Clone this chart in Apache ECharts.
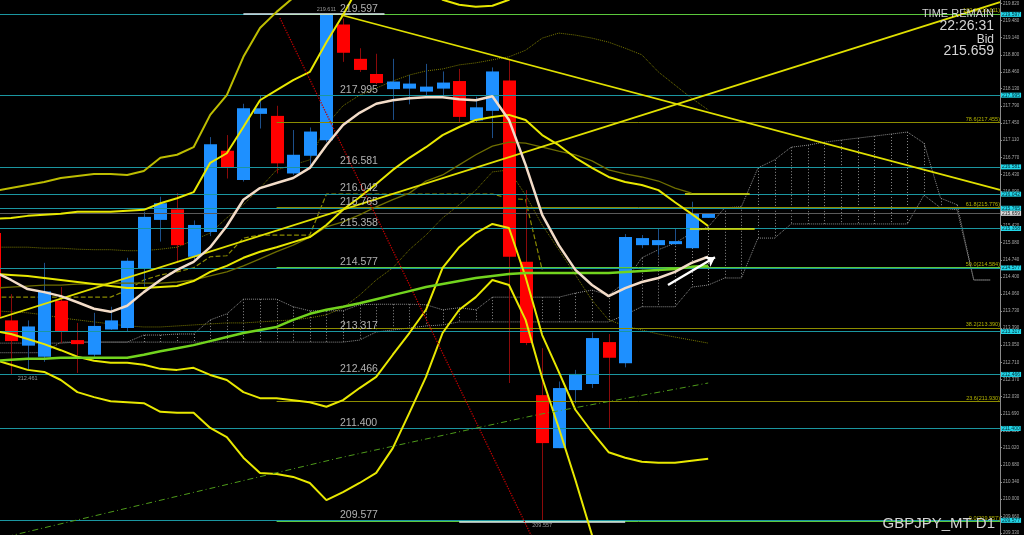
<!DOCTYPE html>
<html><head><meta charset="utf-8">
<script src="https://cdn.jsdelivr.net/npm/echarts@6/dist/echarts.min.js"></script>
<style>html,body{margin:0;padding:0;background:#000;}#c{width:1024px;height:535px;}</style>
</head><body><div id="c"></div>
<script>
// ---------- data (bar index starts at -1) ----------
const START = -1;
// [open, high, low, close]
const ohlc = [
 [215.27,215.43,213.45,213.61],[213.54,214.06,212.461,213.13],[213.04,213.54,212.56,213.42],[212.82,214.68,212.72,214.11],
 [213.93,214.20,213.09,213.32],[213.15,213.49,212.50,213.07],[212.86,213.69,212.82,213.43],[213.36,213.81,213.35,213.54],
 [213.39,214.78,213.32,214.72],[214.56,215.69,214.21,215.59],[215.53,215.99,215.10,215.86],[215.74,216.06,214.68,215.03],
 [214.80,215.52,214.74,215.43],[215.29,217.17,215.21,217.03],[216.90,217.21,216.35,216.57],[216.32,217.83,216.29,217.74],
 [217.63,218.00,217.34,217.74],[217.59,217.79,216.45,216.65],[216.45,217.31,216.42,216.82],[216.80,217.36,216.62,217.28],
 [217.11,219.611,217.07,219.60],[219.40,219.52,218.66,218.84],[218.72,218.93,218.46,218.50],[218.42,218.82,218.22,218.24],
 [218.12,218.72,217.51,218.27],[218.13,218.40,217.82,218.23],[218.07,218.62,217.94,218.17],[218.13,218.47,217.98,218.25],
 [218.28,218.52,217.46,217.57],[217.50,217.97,217.46,217.76],[217.69,218.55,217.15,218.47],[218.29,218.70,212.30,214.80],
 [214.70,216.12,213.05,213.09],[212.06,212.99,209.557,211.11],[211.01,212.33,211.01,212.20],[212.16,212.56,211.90,212.48],
 [212.28,213.30,212.20,213.19],[213.11,213.27,211.40,212.80],[212.69,215.25,212.61,215.19],[215.03,215.23,214.97,215.17],
 [215.03,215.37,214.84,215.13],[215.05,215.37,215.03,215.11],[214.97,215.89,214.97,215.65],[215.57,215.659,215.57,215.659]
];
const maFast = [214.50,214.34,214.16,214.10,214.02,213.90,213.77,213.71,213.83,214.10,214.34,214.54,214.70,214.99,215.41,215.93,216.16,216.26,216.36,216.56,217.01,217.41,217.65,217.83,217.90,217.94,217.96,217.96,217.92,217.90,217.98,217.51,216.62,215.63,215.03,214.54,214.24,214.02,214.18,214.30,214.38,214.50,214.68,214.80];
const maSlow = [212.74,212.76,212.78,212.78,212.80,212.80,212.80,212.80,212.80,212.86,212.93,212.99,213.05,213.13,213.21,213.29,213.35,213.41,213.55,213.67,213.75,213.81,213.88,213.96,214.04,214.12,214.20,214.26,214.32,214.38,214.42,214.46,214.48,214.48,214.48,214.48,214.48,214.48,214.50,214.52,214.54,214.56,214.60,214.62];
const bandOuterUp = [216.10,216.16,216.22,216.28,216.36,216.40,216.44,216.44,216.42,216.50,216.76,216.82,216.97,217.61,218.00,218.76,219.33,219.65,219.93,220.28,220.90,221.40,221.70,221.90,222.00];
const bandUp1 = [215.55,215.57,215.61,215.63,215.65,215.69,215.69,215.69,215.71,215.73,215.86,215.96,216.08,216.66,216.85,217.37,217.90,218.10,218.30,218.46,219.05,219.59,220.18,220.48,220.58,220.48,220.18,219.89,219.79,219.75,219.77,219.89,220.48,221.47,222.26];
const bandUp2 = [214.46,214.44,214.42,214.38,214.34,214.30,214.26,214.22,214.18,214.18,214.20,214.22,214.32,214.50,214.62,214.78,214.90,214.99,215.09,215.19,215.43,215.73,215.98,216.24,216.52,216.76,216.97,217.21,217.37,217.51,217.57,217.61,217.51,217.21,217.01,216.76,216.56,216.38,216.28,216.22,216.12,215.88,215.65,215.41];
const bandMid = [214.18,214.20,214.22,214.24,214.24,214.26,214.26,214.28,214.28,214.28,214.28,214.30,214.34,214.42,214.50,214.62,214.76,214.90,215.03,215.19,215.39,215.49,215.63,215.79,215.93,216.06,216.30,216.42,216.62,216.82,216.99,217.07,217.05,216.97,216.89,216.82,216.70,216.52,216.44,216.38,216.30,216.16,216.06];
const bandLow1 = [213.33,213.27,213.17,213.07,212.95,212.82,212.74,212.70,212.70,212.66,212.58,212.56,212.60,212.46,212.36,212.12,212.00,212.00,211.96,211.92,211.83,211.96,212.20,212.42,212.86,213.29,213.75,214.58,214.99,215.27,215.45,215.37,214.40,213.25,212.52,211.77,211.33,210.93,210.82,210.74,210.72,210.72,210.76,210.80];
const bandLow2 = [212.76,212.66,212.56,212.52,212.36,212.12,212.02,211.94,211.92,211.90,211.73,211.71,211.71,211.41,211.23,210.82,210.52,210.50,210.44,210.32,209.98,210.14,210.32,210.52,211.01,211.71,212.42,213.29,213.75,214.00,214.34,214.24,213.55,212.40,211.41,210.38,209.29,208.20,207.21,206.42,206.02];
const envUp = [214.99,214.99,214.99,214.97,214.97,214.95,214.94,214.94,214.92,214.92,214.95,214.99,215.13,215.27,215.57,215.83,216.16,216.52,216.62,216.72,217.41,217.79,218.00,218.14,218.28,218.40,218.48,218.52,218.60,218.64,218.70,218.76,218.89,219.13,219.23,219.19,219.13,219.05,218.93,218.80,218.46,218.20,217.94,217.71];
const envLow = [213.73,213.71,213.69,213.65,213.59,213.55,213.51,213.47,213.43,213.41,213.41,213.43,213.45,213.47,213.49,213.49,213.51,213.53,213.55,213.59,213.65,213.79,214.04,214.34,214.58,214.94,215.23,215.57,215.83,216.12,216.48,216.52,216.02,215.43,214.94,214.44,213.94,213.55,213.43,213.35,213.27,213.21,213.15,213.09];
const kijun = [214.00,214.00,214.00,214.00,214.00,214.00,214.00,214.00,214.14,214.34,214.44,214.50,214.58,214.80,214.82,215.17,215.23,215.23,215.23,215.23,216.04,216.04,216.04,216.04,216.04,216.04,216.04,216.04,216.04,216.04,216.04,215.96,215.93,214.54];
const spanA = [213.09,213.09,213.09,213.09,213.09,213.11,213.11,213.11,213.11,213.25,213.25,213.27,213.27,213.55,213.67,213.96,213.96,213.96,213.81,213.73,213.73,213.73,213.85,213.86,213.86,213.86,213.85,213.75,213.79,213.75,214.00,214.00,214.00,214.00,214.00,214.08,214.14,214.04,214.30,214.78,214.94,215.07,215.27,215.39,215.77,215.79,216.56,216.72,216.97,217.01,217.07,217.11,217.15,217.19,217.23,217.27,217.05,215.96,215.83,214.34,214.34];
const spanB = [212.90,212.90,212.90,212.90,213.11,213.11,213.11,213.11,213.11,213.11,213.11,213.11,213.11,213.11,213.11,213.11,213.11,213.11,213.11,213.11,213.11,213.11,213.15,213.31,213.35,213.39,213.43,213.45,213.51,213.51,213.51,213.51,213.51,213.51,213.51,213.51,213.51,213.51,213.65,213.81,213.81,213.81,214.20,214.24,214.38,214.38,215.17,215.17,215.45,215.45,215.45,215.45,215.45,215.45,215.45,215.45,216.02,215.77,215.73,214.34,214.34];
const trendUp = [[-0.663,213.588],[59.58,219.845]];
const trendDown = [[19.9,219.588],[59.58,216.123]];
const redDiagonal = [[16.2,219.529],[31.47,209.19]];
const greenDashDot = [[-1,209.2],[19.82,210.82],[31.69,211.67],[42.0,212.30]];
const arrowFrom = [39.58,214.24], arrowTo = [42.41,214.79];
const projPrice = [216.04,215.35], projFrom = [40.6,40.9], projTo = [44.5,44.8];
const levels = [219.597,217.995,216.581,216.042,215.765,215.358,214.577,213.317,212.466,211.400,209.577];
const fibLevels = [219.611,217.455,215.776,214.584,213.390,211.930,209.557];
const fibNames = ['100.0','78.6','61.8','50.0','38.2','23.6','0.0'];
const fibStart = 16;
const bidPrice = 215.659;
const markerPrice = [219.611,212.461,209.557], markerFrom = [14,-0.7,27], markerTo = [22.5,4.0,37], markerLabelAt = [19,1,32];
const axisTicks = [219.82,219.48,219.14,218.80,218.46,218.13,217.79,217.45,217.11,216.77,216.43,216.09,215.75,215.42,215.08,214.74,214.40,214.06,213.73,213.39,213.05,212.71,212.37,212.03,211.69,211.35,211.02,210.68,210.34,210.00,209.66,209.33];

// ---------- layout / style ----------
const X_MIN = -0.663, X_MAX = 59.58, Y_MIN = 209.29, Y_MAX = 219.885;
const LABEL_AT = 19.82;
const CYAN = '#1b96a0', UP = '#1e90ff', DN = '#ff0000', WICK_UP = '#1d4f8a', WICK_DN = '#8b0a0a';
const FIB_GREEN = new Set(['100.0','50.0','0.0']);
const FONT = '"Liberation Sans", Arial, sans-serif';
const seq = (arr, s) => arr.map((v, k) => [s + k, v]);
function line(data, color, width, type, z, extra) {
  return Object.assign({ type: 'line', data, symbol: 'none', silent: true, animation: false, z: z || 3,
    lineStyle: { color, width, type: type || 'solid' } }, extra || {});
}

const chart = echarts.init(document.getElementById('c'), null, { renderer: 'canvas' });

const hatchData = spanA.map((a, k) => [START + k, a, spanB[k]]);
const candleData = ohlc.map((d, k) => [START + k, d[0], d[1], d[2], d[3]]);

const levelMarks = levels.map(v => ({ yAxis: v, lineStyle: { color: CYAN, width: 1, type: 'solid' },
  label: { show: true, position: 'end', distance: 1, formatter: v.toFixed(3), fontSize: 5, fontFamily: FONT,
    color: '#002a33', backgroundColor: '#22d6e8', padding: [0, 1, 0, 1] } }));
levelMarks.push({ yAxis: bidPrice, lineStyle: { color: '#5a5a5a', width: 1, type: 'solid' },
  label: { show: true, position: 'end', distance: 1, formatter: bidPrice.toFixed(3), fontSize: 5, fontFamily: FONT,
    color: '#222', backgroundColor: '#d8d8d8', padding: [0, 1, 0, 1] } });
const fibMarks = fibLevels.map((v, k) => {
  const col = FIB_GREEN.has(fibNames[k]) ? '#5cc83c' : '#8c8c00';
  const lab = { show: true, position: 'insideEndTop', distance: 0, formatter: fibNames[k] + '(' + v.toFixed(3) + ')',
    fontSize: 5.5, fontFamily: FONT, color: '#b4b400' };
  return [{ coord: [fibStart, v], lineStyle: { color: col, width: 1, type: 'solid' }, label: lab },
          { coord: [X_MAX, v], lineStyle: { color: col, width: 1, type: 'solid' }, label: lab }];
});
const markerMarks = markerPrice.map((v, k) => [
  { coord: [markerFrom[k], v], lineStyle: { color: k === 1 ? '#9a9a9a' : '#dde8f0', width: 1.5, type: 'solid' }, label: { show: false } },
  { coord: [markerTo[k], v], lineStyle: { color: k === 1 ? '#9a9a9a' : '#dde8f0', width: 1.5, type: 'solid' }, label: { show: false } }]);
const projMarks = projPrice.map((v, k) => [
  { coord: [projFrom[k], v], lineStyle: { color: '#e8e800', width: 1.5, type: 'solid' }, label: { show: false } },
  { coord: [projTo[k], v], lineStyle: { color: '#e8e800', width: 1.5, type: 'solid' }, label: { show: false } }]);

const series = [
  // ichimoku cloud
  line(seq(spanA, START), '#8c8c8c', 1, 'dotted', 1),
  line(seq(spanB, START), '#8c8c8c', 1, 'dotted', 1),
  { type: 'custom', data: hatchData, z: 1, silent: true, animation: false, clip: true,
    encode: { x: 0, y: [1, 2] },
    renderItem: (p, api) => {
      const a = api.coord([api.value(0), api.value(1)]), b = api.coord([api.value(0), api.value(2)]);
      const x = Math.round(a[0]) + 0.5;
      return { type: 'line', shape: { x1: x, y1: a[1], x2: x, y2: b[1] }, style: { stroke: '#8c8c8c', lineWidth: 1, lineDash: [1, 2] } };
    } },
  line(seq(envUp, START), '#7a7a00', 1, 'dotted', 2),
  line(seq(envLow, START), '#7a7a00', 1, 'dotted', 2),
  line(seq(kijun, START), '#8a8a00', 1.2, 'dashed', 2),
  // candles
  { type: 'custom', data: candleData, z: 3, silent: true, animation: false, clip: true,
    encode: { x: 0, y: [1, 2, 3, 4] },
    renderItem: (p, api) => {
      const i = api.value(0), o = api.value(1), h = api.value(2), l = api.value(3), c = api.value(4);
      const pO = api.coord([i, o]), pH = api.coord([i, h]), pL = api.coord([i, l]), pC = api.coord([i, c]);
      const bull = c >= o, x = Math.round(pO[0]);
      const top = Math.min(pO[1], pC[1]), bot = Math.max(pO[1], pC[1]);
      return { type: 'group', children: [
        { type: 'line', shape: { x1: x + 0.5, y1: pH[1], x2: x + 0.5, y2: pL[1] }, style: { stroke: bull ? WICK_UP : WICK_DN, lineWidth: 1 } },
        { type: 'rect', shape: { x: x - 6, y: top, width: 13, height: Math.max(1.5, bot - top) }, style: { fill: bull ? UP : DN } } ] };
    } },
  // horizontal levels
  line([[X_MIN, Y_MIN]], 'rgba(0,0,0,0)', 0, 'solid', 5, { markLine: { silent: true, symbol: 'none', animation: false,
    data: levelMarks.concat(fibMarks, markerMarks, projMarks) } }),
  // bands and MAs
  line(seq(bandMid, START), '#6e6e00', 1.3, 'solid', 6),
  line(seq(bandOuterUp, START), '#bdbd00', 2, 'solid', 6),
  line(seq(bandUp1, START), '#e8e800', 2, 'solid', 6),
  line(seq(bandUp2, START), '#e8e800', 2, 'solid', 6),
  line(seq(bandLow1, START), '#e8e800', 2, 'solid', 6),
  line(seq(bandLow2, START), '#e8e800', 2, 'solid', 6),
  line(trendUp, '#e0e000', 1.8, 'solid', 6),
  line(trendDown, '#e0e000', 1.8, 'solid', 6),
  line(redDiagonal, '#c00000', 1.3, 'dotted', 6),
  line(greenDashDot, '#4e9a1a', 1, [6, 3, 1, 3], 6),
  line(seq(maSlow, START), '#72d41e', 2.5, 'solid', 7),
  line(seq(maFast, START), '#f3dcc8', 2.5, 'solid', 7),
  { type: 'lines', coordinateSystem: 'cartesian2d', z: 8, silent: true, animation: false,
    symbol: ['none', 'arrow'], symbolSize: 9,
    lineStyle: { color: '#ffffff', width: 2.5, opacity: 1 },
    data: [{ coords: [arrowFrom, arrowTo] }] },
  // level labels on chart
  { type: 'scatter', z: 9, silent: true, animation: false, symbolSize: 0, itemStyle: { color: 'transparent' },
    data: levels.map(v => [LABEL_AT, v]),
    label: { show: true, position: 'top', align: 'left', distance: 0, fontSize: 10.5, fontFamily: FONT, color: '#dcdcdc',
      formatter: p => p.value[1].toFixed(3) } },
  { type: 'scatter', z: 9, silent: true, animation: false, symbolSize: 0, itemStyle: { color: 'transparent' },
    data: markerPrice.map((v, k) => ({ value: [markerLabelAt[k], v], label: { position: k === 0 ? 'top' : 'bottom' } })),
    label: { show: true, distance: 1, fontSize: 5.5, fontFamily: FONT, color: '#bdbdbd',
      formatter: p => p.value[1].toFixed(3) } }
];

chart.setOption({
  backgroundColor: '#000',
  animation: false,
  grid: { left: 0, right: 24, top: 0, bottom: 0, containLabel: false, outerBoundsMode: 'none' },
  xAxis: { type: 'value', min: X_MIN, max: X_MAX, show: false },
  yAxis: { type: 'value', position: 'right', min: Y_MIN, max: Y_MAX, scale: true,
    axisLine: { show: true, onZero: false, lineStyle: { color: '#8a8a8a', width: 1 } },
    axisTick: { show: true, length: 2, customValues: axisTicks, lineStyle: { color: '#8a8a8a' } },
    axisLabel: { show: true, customValues: axisTicks, margin: 3, fontSize: 4.5, fontFamily: FONT, color: '#a8a8a8',
      formatter: v => v.toFixed(3) },
    splitLine: { show: false } },
  graphic: [
    { type: 'text', right: 30, top: 8, z: 100, style: { text: 'TIME REMAIN', fill: '#d4d4d4', font: '11px ' + FONT } },
    { type: 'text', right: 30, top: 19, z: 100, style: { text: '22:26:31', fill: '#d4d4d4', font: '14px ' + FONT } },
    { type: 'text', right: 30, top: 34, z: 100, style: { text: 'Bid', fill: '#d4d4d4', font: '12px ' + FONT } },
    { type: 'text', right: 30, top: 44, z: 100, style: { text: '215.659', fill: '#d4d4d4', font: '14px ' + FONT } },
    { type: 'text', right: 29, top: 516, z: 100, style: { text: 'GBPJPY_MT D1', fill: '#d4d4d4', font: '15px ' + FONT } }
  ],
  series
});
</script>
</body></html>
